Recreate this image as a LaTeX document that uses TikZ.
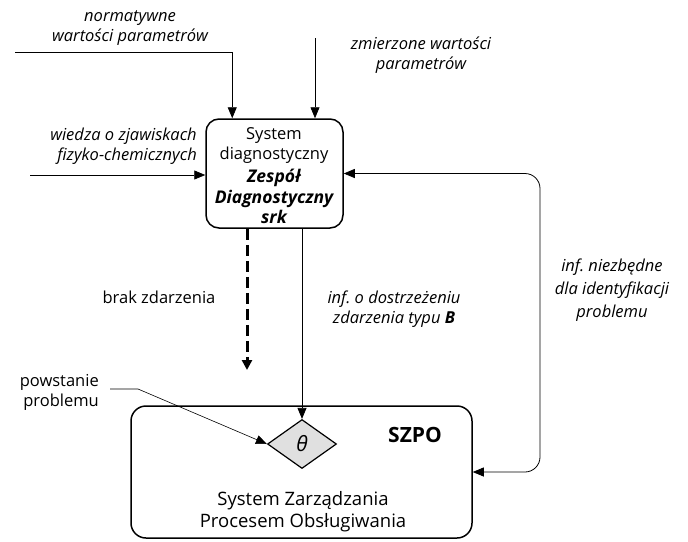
\documentclass[tikz,border=0pt]{standalone}
\usepackage{fontspec}
\setmainfont{Open Sans}
\usetikzlibrary{arrows.meta,shapes.geometric,calc}
\frenchspacing
\begin{document}
\begin{tikzpicture}[x=1pt,y=-1pt,
  txt/.style={font=\fontsize{16.5}{20}\selectfont, align=center, inner sep=0pt},
  itxt/.style={txt, font=\fontsize{16.5}{20}\selectfont\itshape},
  arr/.style={-{Triangle[length=11pt,width=9pt]}, line width=0.8pt},
  boxst/.style={draw, line width=1.5pt, rounded corners=13pt, inner sep=0pt}]
\useasboundingbox (0,0) rectangle (688,541);
% top box
\node[boxst, minimum width=137pt, minimum height=109pt] (sd) at (274.5,173.5) {};
\node[txt] (sdt) at (274,146) {System\\diagnostyczny};
\node[txt, font=\fontsize{17.5}{20.5}\selectfont\bfseries\itshape] (sdz) at (274,196.5) {Zespół\\Diagnostyczny\\srk};
% SZPO box
\node[boxst, minimum width=341pt, minimum height=132pt, rounded corners=15pt] (szpo) at (301.5,472) {};
\node[font=\fontsize{21}{22}\selectfont\bfseries, inner sep=0pt] (szpol) at (415,435) {SZPO};
\node[txt, font=\fontsize{18.5}{22}\selectfont] (szpot) at (303,512) {System Zarządzania\\Procesem Obsługiwania};
% diamond
\node[draw, diamond, fill=black!12, line width=1.2pt, minimum width=69pt, minimum height=49pt, inner sep=0pt] (th) at (302,444) {\itshape\fontsize{21}{21}\selectfont θ};
% top inputs
\node[itxt] (nwp) at (130,28) {normatywne\\wartości parametrów};
\coordinate (n1) at (15,52);
\draw[arr] (n1) -| ([xshift=27pt]sd.north west);
\node[itxt] (zwp) at (421,55) {zmierzone wartości\\parametrów};
\coordinate (z1) at (315,38);
\draw[arr] (z1) -- (z1 |- sd.north);
% left input
\node[itxt, align=right, anchor=east] (wz) at (197,146) {wiedza o zjawiskach\\fizyko-chemicznych};
\coordinate (w1) at (30,175);
\draw[arr] (w1) -- (w1 -| sd.west);
% loop
\coordinate (lp) at (540,300);
\draw[{Triangle[length=11pt,width=9pt]}-{Triangle[length=11pt,width=9pt]}, line width=0.8pt, rounded corners=15pt] (sd.east) -| (lp) |- (szpo.east);
\node[itxt, font=\fontsize{16.5}{23}\selectfont\itshape] (inf) at (612,290.5) {inf. niezbędne\\dla identyfikacji\\problemu};
% dashed
\coordinate (d1) at (247,370);
\draw[-{Triangle[length=10pt,width=10pt]}, line width=3pt, dash pattern=on 11pt off 5pt] (d1 |- sd.south) -- (d1);
\node[txt] (brak) at (159,297) {brak zdarzenia};
% solid to diamond
\draw[arr] (th.north |- sd.south) -- (th.north);
\node[itxt] (od) at (394,309) {inf. o dostrzeżeniu\\zdarzenia typu \textbf{B}};
% powstanie problemu
\node[txt, align=right, anchor=east] (pp) at (99,392) {powstanie\\problemu};
\coordinate (p1) at (110,389);
\coordinate (p2) at (138,389);
\draw[arr, line width=0.6pt] (p1) -- (p2) -- (th.west);
\end{tikzpicture}
\end{document}
